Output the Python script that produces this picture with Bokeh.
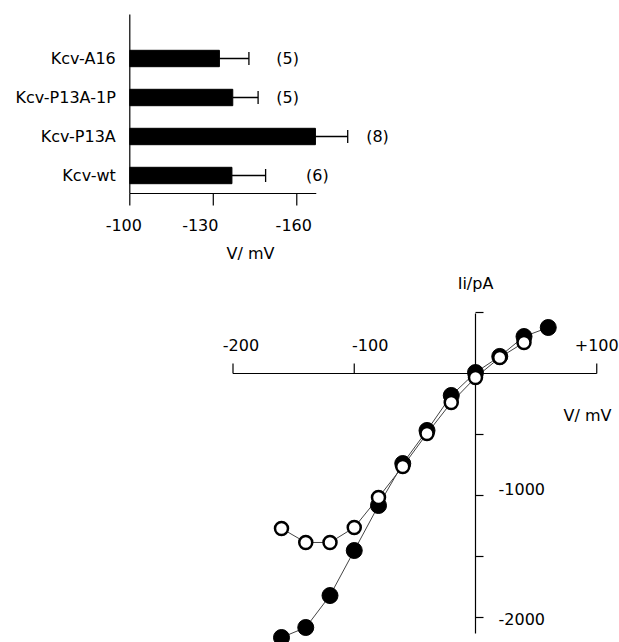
from bokeh.plotting import figure
from bokeh.models import Range1d
from bokeh.embed import file_html
from bokeh.resources import INLINE
from bokeh.core.properties import value

# ---------------- data ----------------
# Panel A: half-activation voltage per construct (bottom to top)
constructs = ["Kcv-wt", "Kcv-P13A", "Kcv-P13A-1P", "Kcv-A16"]
v_mean = [-136.7, -166.7, -137.0, -132.2]
v_sem = [12.1, 11.6, 9.1, 10.6]
n_cells = [6, 8, 5, 5]
bar_ticks = [-100, -130, -160]

# Panel B: I/V relation
iv_v_filled = [-160, -140, -120, -100, -80, -60, -40, -20, 0, 20, 40, 60]
iv_i_filled = [-2164, -2082, -1820, -1451, -1082, -738, -467, -180, 8, 140, 303, 377]
iv_v_open = [-160, -140, -120, -100, -80, -60, -40, -20, 0, 20, 40]
iv_i_open = [-1270, -1385, -1385, -1262, -1016, -762, -492, -238, -33, 131, 254]
iv_xticks = [-200, -100, 100]
iv_xtick_labels = ["-200", "-100", "+100"]
iv_yticks = [500, -500, -1000, -1500, -2000]
iv_ylabel_ticks = [-1000, -2000]
iv_ylabel_text = ["-1000", "-2000"]

# ---------------- layout ----------------
W, H = 619, 642
FONT = value("DejaVu Sans")
FS = "16px"

# top panel scales (pixels)
TX = 2.783      # px per mV
TX0 = 129.3     # canvas x of -100 mV
TY = 39.0       # px per category step
TY0 = 175.0     # canvas y of category 0

# bottom panel scales
BX = 1.2125     # px per mV
BX0 = 475.0     # canvas x of 0 mV
BY = 0.122      # px per pA
BY0 = 373.0     # canvas y of 0 pA

p = figure(width=W, height=H,
           x_range=Range1d(-100 + TX0 / TX, -100 - (W - TX0) / TX),
           y_range=Range1d(-(H - TY0) / TY, TY0 / TY),
           output_backend="svg", toolbar_location=None,
           x_axis_type=None, y_axis_type=None, min_border=0,
           outline_line_color=None)
p.grid.visible = False
p.extra_x_ranges = {"iv": Range1d(-BX0 / BX, (W - BX0) / BX)}
p.extra_y_ranges = {"iv": Range1d(-(H - BY0) / BY, BY0 / BY)}

idx = list(range(len(constructs)))

# ---- Panel A ----
axis_y = -18.0 / TY
axis_top = (TY0 - 14.0) / TY
p.segment(x0=-100, y0=axis_y, x1=-100, y1=axis_top, line_color="black", line_width=1.2)
p.segment(x0=-100, y0=axis_y, x1=-167, y1=axis_y, line_color="black", line_width=1.2)
p.segment(x0=bar_ticks, y0=[axis_y] * 3, x1=bar_ticks, y1=[axis_y - 12.0 / TY] * 3,
          line_color="black", line_width=1.2)

p.hbar(y=idx, left=-100, right=v_mean, height=0.42, fill_color="black", line_color="black")
err_end = [m - s for m, s in zip(v_mean, v_sem)]
p.segment(x0=v_mean, y0=idx, x1=err_end, y1=idx, line_color="black", line_width=1.3)
cap = 6.5 / TY
p.segment(x0=err_end, y0=[i - cap for i in idx], x1=err_end, y1=[i + cap for i in idx],
          line_color="black", line_width=1.3)

p.text(x=[-100] * 4, y=idx, text=constructs, x_offset=-14, text_align="right",
       text_baseline="middle", text_font=FONT, text_font_size=FS, text_color="black")

bar_tick_dx = [-6, -13, -3]
p.text(x=bar_ticks, y=[-1.26] * 3, text=[str(t) for t in bar_ticks], x_offset=bar_tick_dx,
       text_align="center", text_baseline="middle", text_font=FONT, text_font_size=FS)

n_label_x = [-167.4, -189.0, -156.7, -156.7]
p.text(x=n_label_x, y=idx, text=["(%d)" % n for n in n_cells], text_align="center",
       text_baseline="middle", text_font=FONT, text_font_size=FS)

p.text(x=[-143.4], y=[-2.0], text=["V/ mV"], text_align="center", text_baseline="middle",
       text_font=FONT, text_font_size=FS)

# ---- Panel B ----
R = dict(x_range_name="iv", y_range_name="iv")
p.segment(x0=-200, y0=0, x1=100, y1=0, line_color="black", line_width=1.2, **R)
p.segment(x0=iv_xticks, y0=[0] * 3, x1=iv_xticks, y1=[10.0 / BY] * 3,
          line_color="black", line_width=1.2, **R)
p.segment(x0=0, y0=(BY0 - 313.0) / BY, x1=0, y1=-(633.0 - BY0) / BY,
          line_color="black", line_width=1.2, **R)
p.segment(x0=[0] * 5, y0=iv_yticks, x1=[8.0 / BX] * 5, y1=iv_yticks,
          line_color="black", line_width=1.2, **R)

xlab_dx = [8, 16, 0]
p.text(x=iv_xticks, y=[(BY0 - 344.0) / BY] * 3, text=iv_xtick_labels, x_offset=xlab_dx,
       text_align="center", text_baseline="middle", text_font=FONT, text_font_size=FS, **R)
ylab_dy = [-7, 1]
p.text(x=[23.0 / BX] * 2, y=iv_ylabel_ticks, text=iv_ylabel_text, y_offset=ylab_dy,
       text_align="left", text_baseline="middle", text_font=FONT, text_font_size=FS, **R)

p.text(x=[0], y=[(BY0 - 283.0) / BY], text=["Ii/pA"], text_align="center",
       text_baseline="middle", text_font=FONT, text_font_size=FS, **R)
p.text(x=[(587.0 - BX0) / BX], y=[(BY0 - 415.0) / BY], text=["V/ mV"], text_align="center",
       text_baseline="middle", text_font=FONT, text_font_size=FS, **R)

p.line(iv_v_filled, iv_i_filled, line_color="#444444", line_width=1, **R)
p.line(iv_v_open, iv_i_open, line_color="#444444", line_width=1, **R)
p.scatter(iv_v_filled, iv_i_filled, marker="circle", size=16, fill_color="black",
          line_color="black", **R)
p.scatter(iv_v_open, iv_i_open, marker="circle", size=13, fill_color="white",
          line_color="black", line_width=2.5, **R)

open("out.html", "w").write(file_html(p, INLINE))
